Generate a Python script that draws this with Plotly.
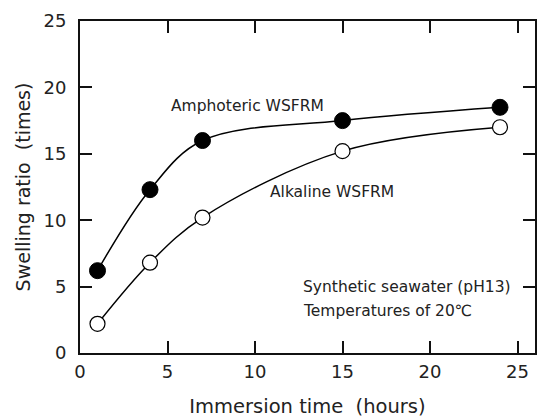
import plotly.graph_objects as go

hours = [1, 4, 7, 15, 24]
amphoteric = [6.2, 12.3, 16.0, 17.5, 18.5]
alkaline = [2.2, 6.8, 10.2, 15.2, 17.0]

x_ticks = [0, 5, 10, 15, 20, 25]
y_ticks = [0, 5, 10, 15, 20, 25]

FONT = "DejaVu Sans"
TXT = "#222"

fig = go.Figure()
fig.add_trace(go.Scatter(
    x=hours, y=amphoteric, mode="lines+markers", line_shape="spline",
    line=dict(color="black", width=1.5),
    marker=dict(symbol="circle", size=16, color="black", line=dict(color="black", width=1)),
    showlegend=False))
fig.add_trace(go.Scatter(
    x=hours, y=alkaline, mode="lines+markers", line_shape="spline",
    line=dict(color="black", width=1.5),
    marker=dict(symbol="circle", size=15, color="white", line=dict(color="black", width=1.2)),
    showlegend=False))

annots = [
    dict(x=9.55, y=18.6, text="Amphoteric WSFRM", xanchor="center"),
    dict(x=14.4, y=12.1, text="Alkaline WSFRM", xanchor="center"),
    dict(x=12.6, y=5.0, text="Synthetic seawater (pH13)", xanchor="left"),
    dict(x=12.6, y=3.2, text="Temperatures of 20℃", xanchor="left"),
]
for a in annots:
    fig.add_annotation(x=a["x"], y=a["y"], text=a["text"], xanchor=a["xanchor"],
                       yanchor="middle", showarrow=False,
                       font=dict(family=FONT, size=15.5, color=TXT))

axis_common = dict(
    showline=True, linecolor="#111111", linewidth=2, mirror="ticks",
    ticks="inside", ticklen=12, tickwidth=1.5, tickcolor="#111111",
    showgrid=False, zeroline=False,
    tickfont=dict(family=FONT, size=18, color=TXT),
)

fig.update_xaxes(range=[0, 26], tickvals=x_ticks, ticklabelstandoff=1,
                 title=dict(text="Immersion time  (hours)", standoff=21,
                            font=dict(family=FONT, size=19.5, color=TXT)),
                 **axis_common)
fig.update_yaxes(range=[0, 25], tickvals=y_ticks, ticklabelstandoff=8,
                 title=dict(text="Swelling ratio  (times)", standoff=8,
                            font=dict(family=FONT, size=19, color=TXT)),
                 **axis_common)

fig.update_layout(
    width=539, height=418,
    margin=dict(l=80, r=2, t=21, b=64),
    plot_bgcolor="white", paper_bgcolor="white",
)

fig.write_html("out.html")
